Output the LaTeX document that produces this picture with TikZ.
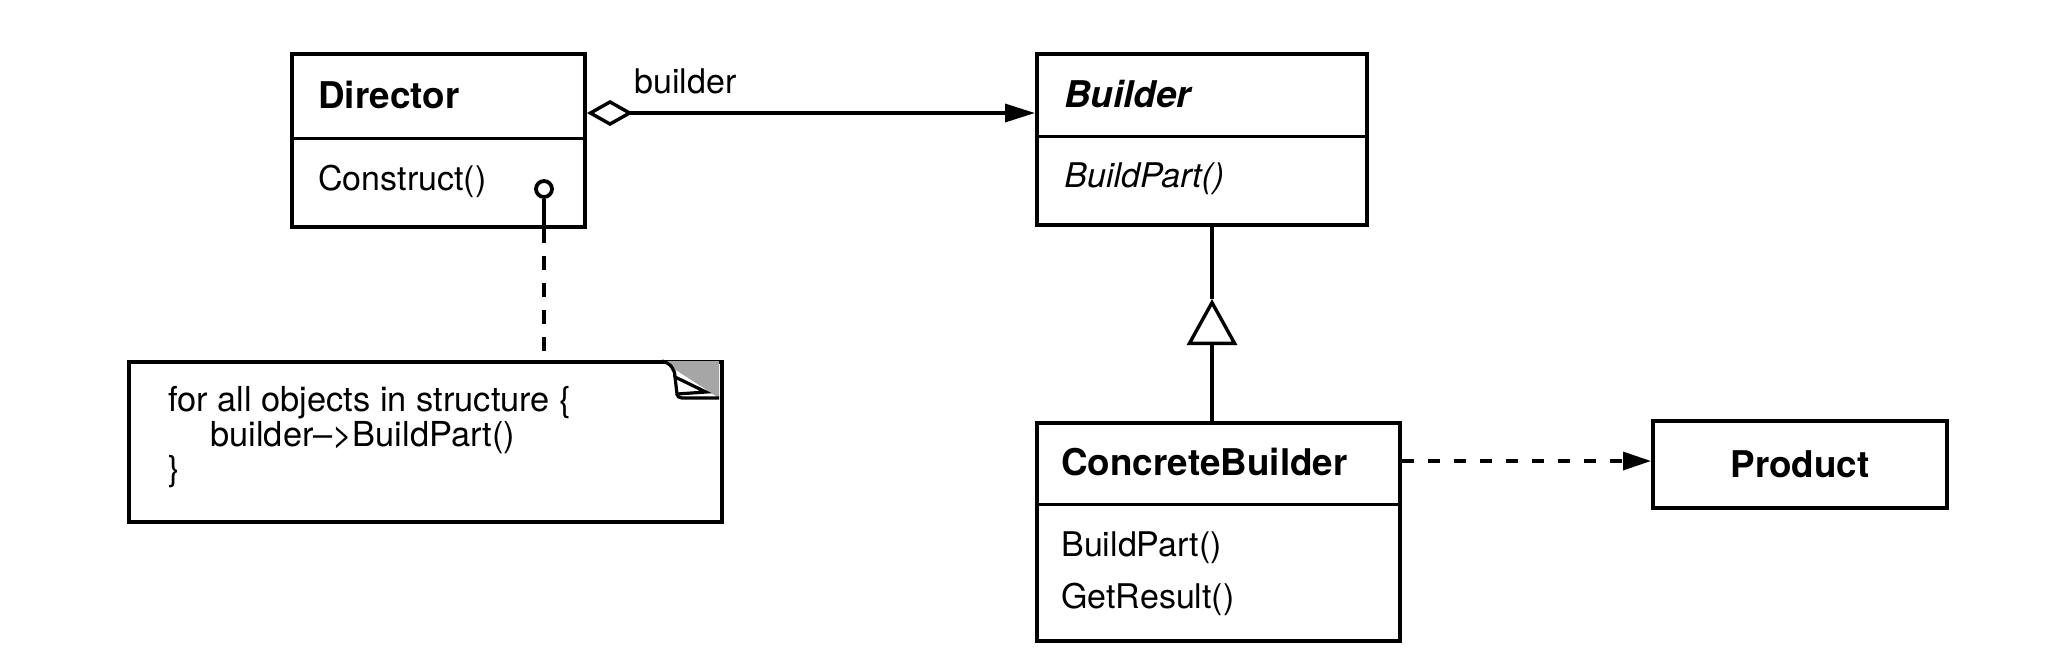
\documentclass[tikz,border=0pt]{standalone}
\usepackage{fontspec}
\setmainfont{TeX Gyre Heros}
\usetikzlibrary{arrows.meta}
\begin{document}
\begin{tikzpicture}[x=0.5pt,y=-0.5pt,
  box/.style={draw,line width=2pt,inner sep=0pt,anchor=north west},
  div/.style={line width=1.5pt},
  conn/.style={line width=1.7pt},
  lbl/.style={anchor=west,inner sep=0pt,font=\fontsize{17}{17}\selectfont},
  blbl/.style={anchor=west,inner sep=0pt,font=\fontsize{18.4}{18.4}\selectfont\bfseries},
  ilbl/.style={anchor=west,inner sep=0pt,font=\fontsize{17}{17}\selectfont\itshape},
  bilbl/.style={anchor=west,inner sep=0pt,font=\fontsize{18.4}{18.4}\selectfont\bfseries\itshape}]
\useasboundingbox[fill=white] (0,0) rectangle (2054,650);

% boxes
\node[box,minimum width=146.5pt,minimum height=86.5pt] (dir) at (290,52) {};
\node[box,minimum width=165pt,minimum height=85.5pt] (bld) at (1035,52) {};
\node[box,minimum width=181.5pt,minimum height=109pt] (cb) at (1035,421) {};
\node[box,minimum width=147pt,minimum height=43.5pt] (prod) at (1651,419) {};
\node[box,minimum width=296.5pt,minimum height=80pt] (note) at (127,360) {};

% dividers
\coordinate (dirdiv) at (0,138);
\coordinate (blddiv) at (0,136);
\coordinate (cbdiv) at (0,504);
\draw[div] (dir.west |- dirdiv) -- (dir.east |- dirdiv);
\draw[div] (bld.west |- blddiv) -- (bld.east |- blddiv);
\draw[div] (cb.west |- cbdiv) -- (cb.east |- cbdiv);

% texts
\node[blbl] (tdir) at (318,95) {Director};
\node[lbl] (tcons) at (318,181) {Construct()};
\node[bilbl] (tbld) at (1064,94) {Builder};
\node[ilbl] (tbp) at (1064,179) {BuildPart()};
\node[blbl] (tcb) at (1061,462) {ConcreteBuilder};
\node[lbl] (tcbp) at (1061,548) {BuildPart()};
\node[lbl] (tgr) at (1061,599) {GetResult()};
\node[font=\fontsize{18.4}{18.4}\selectfont\bfseries,inner sep=0pt] (tprod) at (prod.center) {Product};
\node[lbl] (tbuilder) at (634,81) {builder};
\node[anchor=north west,inner sep=0pt,align=left,font=\fontsize{17.2}{16}\selectfont] (tnote) at (168,386)
  {for all objects in structure \{\\\hspace*{21pt}builder--{>}BuildPart()\\\}};

% aggregation
\coordinate (agg) at (0,113);
\draw[conn,{Diamond[open,length=23pt,width=13pt]}-{Triangle[length=15pt,width=9pt]}]
  (dir.east |- agg) -- (bld.west |- agg);

% inheritance
\coordinate (tri) at (1212,299);
\draw[conn,-{Triangle[open,length=23pt,width=25pt]}] (tri |- cb.north) -- (tri);
\draw[conn] (tri) -- (tri |- bld.south);

% dependency
\coordinate (dep) at (0,461);
\draw[conn,dash pattern=on 6pt off 7pt,-{Triangle[length=14pt,width=9pt]}]
  (cb.east |- dep) -- (prod.west |- dep);

% lollipop + note link
\node[circle,draw,line width=1.9pt,minimum size=8pt,inner sep=0pt] (lol) at (544,189) {};
\draw[conn] (lol.south) -- (lol |- dir.south);
\draw[conn,dash pattern=on 7pt off 6.5pt] (lol |- dir.south) -- (lol |- note.north);

% dog ear
\fill[gray!70] (662,361) -- (719,361) -- (719,398) -- cycle;
\draw[line width=1.6pt] (662,361) .. controls (670,363) and (675,369) .. (675,377);
\draw[line width=1.6pt,fill=white] (675,377) -- (706,392) -- (677,394) -- cycle;
\draw[line width=1.6pt] (677,394) .. controls (678,397) .. (682,398) -- (719,398);
\end{tikzpicture}
\end{document}
